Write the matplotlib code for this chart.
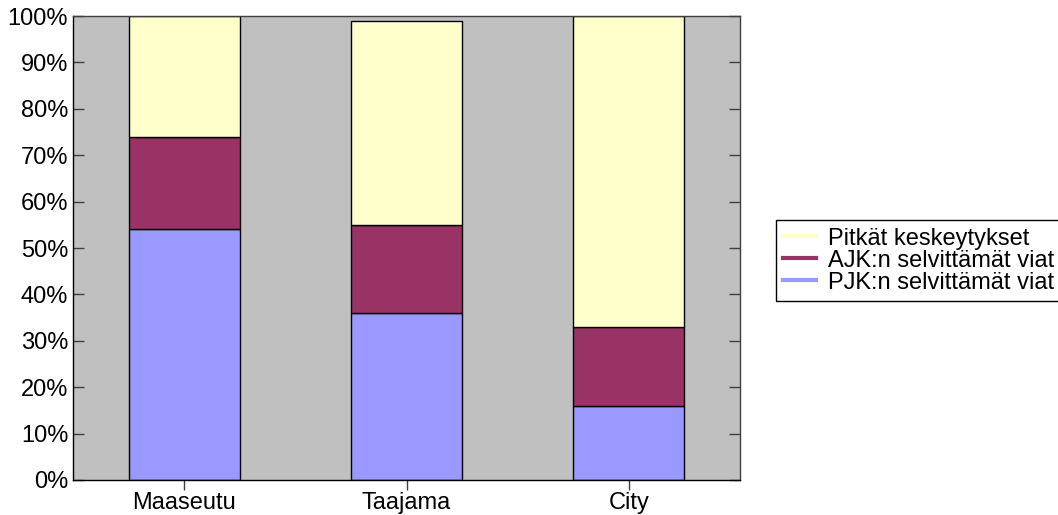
import matplotlib
matplotlib.use("Agg")
import matplotlib.pyplot as plt
from matplotlib.ticker import PercentFormatter

plt.rcParams["font.family"] = ["Liberation Sans", "DejaVu Sans"]

# shares of faults per area type (percent)
areas = ["Maaseutu", "Taajama", "City"]
pjk = [54, 36, 16]
ajk = [20, 19, 17]
pitkat = [26, 44, 67]

labels = ["PJK:n selvittämät viat", "AJK:n selvittämät viat", "Pitkät keskeytykset"]
colors = ["#9999FF", "#993366", "#FFFFCC"]

fig = plt.figure(figsize=(10.58, 5.15), dpi=100)
ax = fig.add_axes([73 / 1058, 1 - 480 / 515, (740 - 73) / 1058, (480 - 16) / 515])
ax.set_facecolor("#C0C0C0")

x = range(len(areas))
bottom = [0, 0, 0]
handles = []
for vals, lab, col in zip([pjk, ajk, pitkat], labels, colors):
    ax.bar(x, vals, width=0.5, bottom=bottom, color=col, edgecolor="black",
           linewidth=1.0, label=lab)
    h, = ax.plot([], [], color=col, lw=3, label=lab)
    handles.append(h)
    bottom = [b + v for b, v in zip(bottom, vals)]

ax.set_xlim(-0.5, 2.5)
ax.set_ylim(0, 100)
ax.set_yticks(range(0, 101, 10))
ax.yaxis.set_major_formatter(PercentFormatter(decimals=0))
ax.set_xticks(list(x))
ax.set_xticklabels(areas)

ax.tick_params(axis="y", direction="in", length=8, width=1, colors="#404040",
               labelcolor="black", labelsize=17, pad=3.5, right=True)
ax.tick_params(axis="x", direction="out", length=7, width=1, colors="#404040",
               labelcolor="black", labelsize=17, pad=1.5)
for s in ax.spines.values():
    s.set_color("black")
    s.set_linewidth(1)
ax.spines["top"].set_color("#404040")
ax.spines["right"].set_color("#404040")

leg = fig.legend(handles[::-1], labels[::-1], loc="center left",
                 bbox_to_anchor=(776 / 1058, 1 - 260.5 / 515), fontsize=17,
                 frameon=True, fancybox=False, edgecolor="black", framealpha=1,
                 handlelength=1.4, handletextpad=0.5, labelspacing=0.0,
                 borderpad=0.3, borderaxespad=0)
leg.get_frame().set_linewidth(1)

fig.savefig("out.png", dpi=100)
